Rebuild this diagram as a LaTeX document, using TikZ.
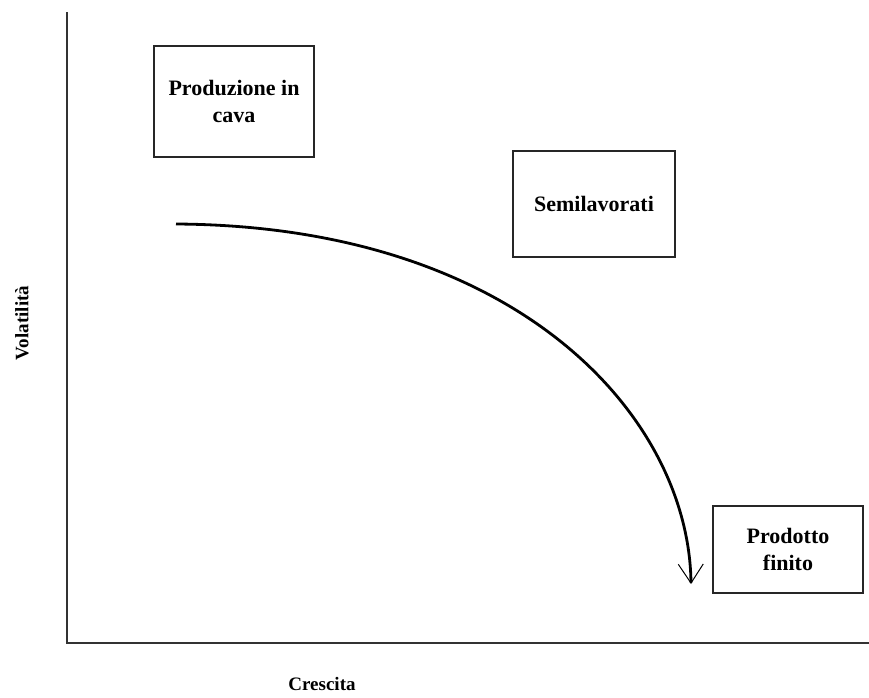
\documentclass[tikz,border=0pt]{standalone}
\usepackage{fontspec}
\setmainfont{Liberation Serif}
\usetikzlibrary{arrows.meta}
\begin{document}
\begin{tikzpicture}[x=1pt,y=-1pt,
  axisline/.style={line width=2pt,draw=black!80},
  stagebox/.style={draw=black!85,line width=1.5pt,align=center,
    font=\fontsize{22}{27}\selectfont\bfseries,inner sep=0pt},
  axislabel/.style={font=\fontsize{19}{23}\selectfont\bfseries,inner sep=0pt},
  trend/.style={line width=2.8pt,
    -{Straight Barb[length=19pt,width=25pt,line width=1pt]}}]
\useasboundingbox (0,0) rectangle (869,697);
% axes
\coordinate (ytop) at (67,12);
\coordinate (origin) at (67,643);
\coordinate (xend) at (869,643);
\draw[axisline] (ytop) -- (origin) -- (xend);
\node[axislabel] (xlab) at (322,684) {Crescita};
\node[axislabel,rotate=90] (ylab) at (22,323) {Volatilità};
% stages
\node[stagebox,minimum width=160pt,minimum height=111pt] (cava) at (234,101.5) {Produzione in\\cava};
\node[stagebox,minimum width=162pt,minimum height=106pt] (semi) at (594,204) {Semilavorati};
\node[stagebox,minimum width=150pt,minimum height=87pt] (finito) at (788,549.5) {Prodotto\\finito};
% trend curve
\coordinate (start) at (176,224);
\coordinate (tip) at (691,584);
\draw[trend] (start) .. controls (520,226) and (689,418) .. (tip);
\end{tikzpicture}
\end{document}
